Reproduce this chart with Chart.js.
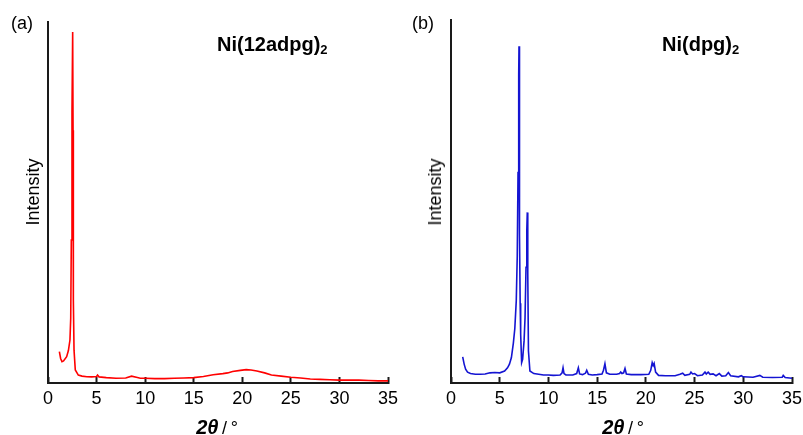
<!DOCTYPE html>
<html>
<head>
<meta charset="utf-8">
<script src="https://cdn.jsdelivr.net/npm/chart.js@4.4.1/dist/chart.umd.min.js"></script>
<style>
  html, body { margin: 0; padding: 0; background: #fff; }
  #wrap { position: relative; width: 803px; height: 435px; font-family: Arial, "Liberation Sans", sans-serif; color: #000; }
  .panel { position: absolute; top: 0; }
  .txt { position: absolute; white-space: nowrap; line-height: 20px; }
  .cen { transform: translate(-50%, -50%); }
  .rot { transform: translate(-50%, -50%) rotate(-90deg); }
  .name { font-weight: bold; font-size: 20px; }
  .name sub { font-size: 13px; vertical-align: -3px; }
  .th { font-weight: bold; font-style: italic; font-size: 20px; }
</style>
</head>
<body>
<div id="wrap">
  <div class="panel" style="left:0"><canvas id="chA" width="400" height="435"></canvas></div>
  <div class="panel" style="left:400px"><canvas id="chB" width="403" height="435"></canvas></div>

  <div class="txt" style="left:11px;top:13px;font-size:18px">(a)</div>
  <div class="txt name" style="left:217px;top:34px">Ni(12adpg)<sub>2</sub></div>
  <div class="txt rot" style="left:33px;top:192px;font-size:18px">Intensity</div>
  <div class="txt cen" style="left:217px;top:427px;font-size:18px"><span class="th">2&theta;</span>&thinsp;/&thinsp;&deg;</div>

  <div class="txt" style="left:412px;top:13px;font-size:18px">(b)</div>
  <div class="txt name" style="left:662px;top:34px">Ni(dpg)<sub>2</sub></div>
  <div class="txt rot" style="left:435px;top:192px;font-size:18px">Intensity</div>
  <div class="txt cen" style="left:623px;top:427px;font-size:18px"><span class="th">2&theta;</span>&thinsp;/&thinsp;&deg;</div>
</div>
<script>
// x-axis ticks (2theta, degrees)
const xTicks = [0, 5, 10, 15, 20, 25, 30, 35];

// (a) Ni(12adpg)2 - 2theta and intensity (a.u., 0-100 = axis height)
const aTheta = [1.17, 1.3, 1.44, 1.6, 1.92, 2.1, 2.26, 2.34, 2.40, 2.47, 2.54, 2.58, 2.61, 2.68, 2.81, 3.12,
  3.5, 4.0, 4.5, 5.0, 5.1, 5.25, 6.0, 7.0, 8.0, 8.6, 9.2, 9.5, 10.0, 11.0, 12.0, 13.0, 14.0, 15.0,
  16.0, 17.0, 18.0, 18.5, 19.0, 19.8, 20.4, 20.9, 21.5, 22.3, 23.0, 24.0, 25.0, 26.0, 27.0, 28.0,
  29.0, 30.0, 31.0, 32.0, 33.0, 34.0, 35.0];
const aInt = [8.7, 6.8, 5.9, 6.1, 7.3, 9.0, 11.9, 18, 39.6, 75, 97.2, 70, 23, 9.1, 3.6, 2.2,
  1.9, 1.75, 1.7, 1.8, 2.2, 1.7, 1.5, 1.3, 1.4, 1.9, 1.5, 1.3, 1.3, 1.2, 1.2, 1.3, 1.4, 1.5,
  1.8, 2.3, 2.6, 2.8, 3.2, 3.5, 3.7, 3.6, 3.3, 2.8, 2.2, 1.9, 1.6, 1.4, 1.1, 1.0,
  0.9, 0.8, 0.8, 0.8, 0.7, 0.6, 0.6];

// (b) Ni(dpg)2
const bTheta = [1.2, 1.35, 1.5, 1.7, 2.0, 2.5, 3.0, 3.5, 4.0, 4.5, 5.0, 5.5, 5.8, 6.0, 6.2, 6.4, 6.55,
  6.7, 6.8, 6.88, 6.95, 6.98, 7.01, 7.05, 7.1, 7.15, 7.25, 7.35, 7.5, 7.6, 7.7, 7.78, 7.83, 7.88, 7.95,
  8.1, 8.5, 9.0, 9.5, 10.0, 10.5, 11.2, 11.4, 11.5, 11.6, 11.8, 12.5, 12.9, 13.07, 13.2, 13.5, 13.8,
  13.93, 14.1, 14.5, 15.0, 15.5, 15.65, 15.8, 15.95, 16.3, 17.0, 17.3, 17.42, 17.55, 17.72, 17.86, 18.0,
  18.5, 19.5, 20.3, 20.5, 20.65, 20.75, 20.85, 21.0, 21.3, 22.0, 23.0, 23.5, 23.78, 24.0, 24.5, 24.63,
  24.8, 25.0, 25.3, 25.8, 26.07, 26.2, 26.4, 26.6, 26.9, 27.2, 27.54, 27.8, 28.2, 28.47, 28.7, 29.5,
  29.8, 30.0, 31.0, 31.7, 32.0, 33.0, 34.0, 34.1, 34.3, 35.0];
const bInt = [7.2, 5.2, 3.8, 3.0, 2.6, 2.4, 2.4, 2.5, 2.8, 2.9, 2.8, 3.3, 4.2, 5.2, 7.0, 11, 15,
  22.7, 35, 58, 85, 92.8, 80, 41, 22, 13.5, 5.6, 6.5, 11.6, 18, 31.9, 42, 47, 30, 8.8,
  3.3, 2.6, 2.4, 2.2, 2.2, 2.1, 2.2, 2.8, 4.2, 2.6, 2.2, 2.2, 2.6, 4.2, 2.5, 2.3, 2.7,
  3.5, 2.4, 2.2, 2.3, 2.5, 3.5, 5.3, 2.8, 2.4, 2.4, 2.6, 3.0, 2.6, 2.8, 4.0, 2.5,
  2.3, 2.3, 2.4, 3.5, 5.6, 4.8, 5.4, 3.0, 2.1, 2.0, 2.0, 2.4, 2.7, 2.1, 2.4, 3.0,
  2.5, 2.6, 2.0, 2.2, 3.0, 2.5, 3.0, 2.4, 2.5, 2.0, 2.6, 1.9, 2.0, 2.9, 2.0, 1.7,
  2.0, 1.7, 1.6, 2.1, 1.6, 1.5, 1.6, 2.1, 1.5, 1.3];

const axisColor = '#1a1a1a';
const tickFont = { family: 'Arial, "Liberation Sans", sans-serif', size: 18 };

function makeXRD(id, xs, ys, color, box) {
    const ctx = document.getElementById(id);
    return new Chart(ctx.getContext('2d'), {
        type: 'line',
        data: {
            datasets: [{
                data: xs.map((x, i) => ({ x: x, y: ys[i] })),
                borderColor: color,
                borderWidth: 1.6,
                pointRadius: 0,
                tension: 0,
                fill: false
            }]
        },
        options: {
            responsive: false,
            animation: false,
            layout: { padding: { left: 0, right: box.right, top: box.top, bottom: 0 } },
            plugins: { legend: { display: false }, tooltip: { enabled: false } },
            scales: {
                x: {
                    type: 'linear',
                    min: 0, max: 35,
                    afterBuildTicks: (s) => { s.ticks = xTicks.map(v => ({ value: v })); },
                    afterFit: (s) => {
                        s.height = 52;
                        // don't let the edge labels push the plot area in
                        s.paddingLeft = 0;
                        s.paddingRight = 0;
                    },
                    border: { display: true, color: axisColor, width: 2 },
                    grid: { display: true, drawOnChartArea: false, drawTicks: true, tickLength: -6, tickWidth: 2, tickColor: axisColor },
                    ticks: { color: '#000', font: tickFont, padding: 11, maxRotation: 0 }
                },
                y: {
                    min: 0, max: 100,
                    afterFit: (s) => { s.width = box.left; },
                    border: { display: true, color: axisColor, width: 2 },
                    grid: { display: false },
                    ticks: { display: false }
                }
            }
        }
    });
}

makeXRD('chA', aTheta, aInt, '#ff0000', { left: 48, right: 12, top: 22 });
makeXRD('chB', bTheta, bInt, '#1414d2', { left: 51, right: 11, top: 20 });
</script>
</body>
</html>
